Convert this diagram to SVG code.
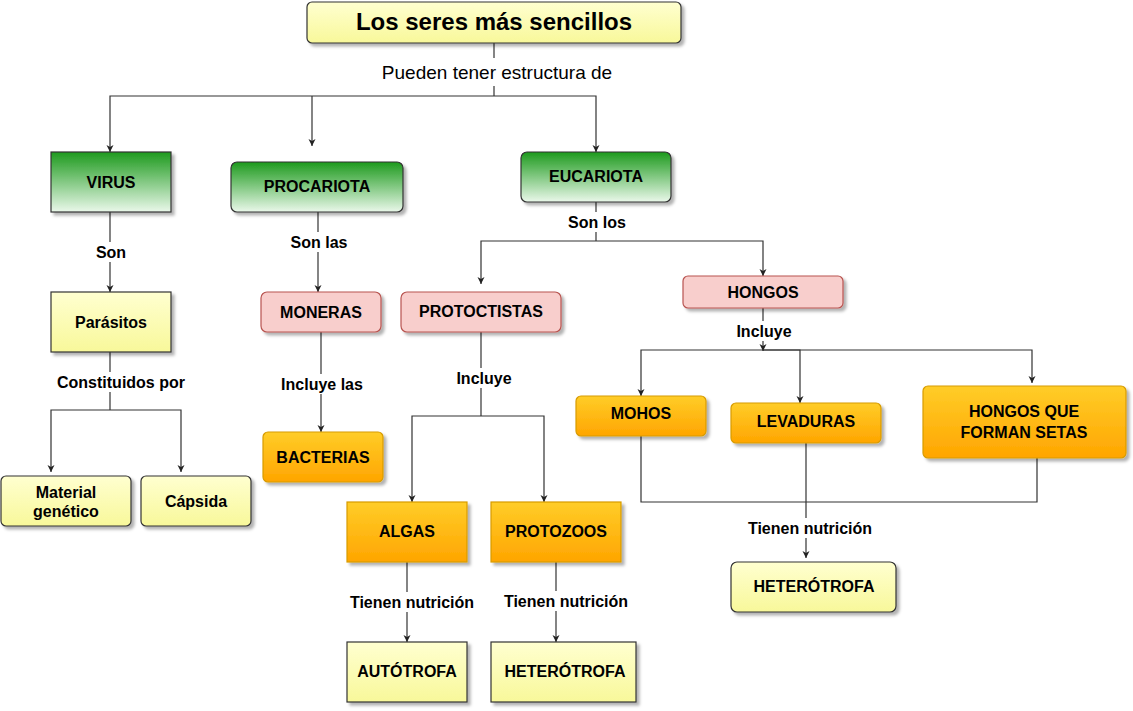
<svg xmlns="http://www.w3.org/2000/svg" width="1133" height="711" viewBox="0 0 1133 711">
<defs>
<linearGradient id="gG" x1="0" y1="0" x2="0" y2="1"><stop offset="0" stop-color="#1d9a1d"/><stop offset="1" stop-color="#eaf8ea"/></linearGradient>
<linearGradient id="gO" x1="0" y1="0" x2="0" y2="1"><stop offset="0" stop-color="#ffcd28"/><stop offset="1" stop-color="#ffa500"/></linearGradient>
<linearGradient id="gY" x1="0" y1="0" x2="0" y2="1"><stop offset="0" stop-color="#ffffd0"/><stop offset="1" stop-color="#f8f89a"/></linearGradient>
<filter id="sh" x="-10%" y="-10%" width="130%" height="140%"><feDropShadow dx="3" dy="3" stdDeviation="1.5" flood-color="#000" flood-opacity="0.3"/></filter>
<marker id="ar" markerWidth="10" markerHeight="10" refX="8" refY="5" orient="auto" markerUnits="userSpaceOnUse"><path d="M1,1.5 L8,5 L1,8.5 L3,5 Z" fill="#222"/></marker>
<style>
.n{stroke:#333;stroke-width:1.2;filter:url(#sh)}
.g{fill:url(#gG)}.o{fill:url(#gO);stroke:#d79b00}.y{fill:url(#gY)}.p{fill:#f8cecc;stroke:#b85450}
.t{font-family:"Liberation Sans",Arial,sans-serif;font-weight:bold;font-size:16px;text-anchor:middle;dominant-baseline:central;fill:#000}
.c{fill:none;stroke:#333;stroke-width:1.2}
.a{marker-end:url(#ar)}
.lb{fill:#fff}
.l{font-family:"Liberation Sans",Arial,sans-serif;font-weight:bold;font-size:16px;text-anchor:middle;dominant-baseline:central}
</style>
</defs>
<g id="connectors">
<path class="c" d="M494,43 V96"/>
<path class="c a" d="M494,96 H110 V152"/>
<path class="c a" d="M312,96 V146"/>
<path class="c a" d="M494,96 H596 V152"/>
<path class="c a" d="M110,212 V292"/>
<path class="c a" d="M318,212 V292"/>
<path class="c" d="M596,202 V241"/>
<path class="c a" d="M596,241 H481 V284"/>
<path class="c a" d="M596,241 H763 V276"/>
<path class="c" d="M110,352 V410"/>
<path class="c a" d="M110,410 H51 V472"/>
<path class="c a" d="M110,410 H181 V472"/>
<path class="c a" d="M321,332 V432"/>
<path class="c" d="M481,332 V416"/>
<path class="c a" d="M481,416 H412 V502"/>
<path class="c a" d="M481,416 H544 V502"/>
<path class="c a" d="M763,308 V351"/>
<path class="c a" d="M763,350 H641 V396"/>
<path class="c a" d="M763,350 H800 V403"/>
<path class="c a" d="M763,350 H1032 V383"/>
<path class="c" d="M641,436 V502 H1037 V458"/>
<path class="c a" d="M806,443 V558"/>
<path class="c a" d="M407,562 V642"/>
<path class="c a" d="M556,562 V642"/>
<rect class="lb" x="362" y="58" width="270" height="28"/><text x="497" y="72" class="l" style="font-weight:normal;font-size:19px">Pueden tener estructura de</text>
<rect class="lb" x="92" y="242" width="38" height="20"/><text class="l" x="111" y="252">Son</text>
<rect class="lb" x="284" y="232" width="70" height="20"/><text class="l" x="319" y="242">Son las</text>
<rect class="lb" x="563" y="212" width="68" height="20"/><text class="l" x="597" y="222">Son los</text>
<rect class="lb" x="48" y="372" width="146" height="20"/><text class="l" x="121" y="382">Constituidos por</text>
<rect class="lb" x="274" y="374" width="96" height="20"/><text class="l" x="322" y="384">Incluye las</text>
<rect class="lb" x="451" y="368" width="66" height="20"/><text class="l" x="484" y="378">Incluye</text>
<rect class="lb" x="731" y="321" width="66" height="20"/><text class="l" x="764" y="331">Incluye</text>
<rect class="lb" x="737" y="518" width="144" height="20"/><text class="l" x="810" y="528">Tienen nutrición</text>
<rect class="lb" x="340" y="592" width="144" height="20"/><text class="l" x="412" y="602">Tienen nutrición</text>
<rect class="lb" x="494" y="591" width="144" height="20"/><text class="l" x="566" y="601">Tienen nutrición</text>
</g>
<g id="title"><rect class="n y" x="307" y="2" width="374" height="41" rx="5"/><text class="t" x="494" y="21" style="font-size:24px">Los seres más sencillos</text></g>
<g id="virus"><rect class="n g" x="51" y="152" width="120" height="60"/><text class="t" x="111" y="182">VIRUS</text></g>
<g id="procariota"><rect class="n g" x="231" y="162" width="172" height="50" rx="6"/><text class="t" x="317" y="186">PROCARIOTA</text></g>
<g id="eucariota"><rect class="n g" x="521" y="152" width="150" height="50" rx="6"/><text class="t" x="596" y="176">EUCARIOTA</text></g>
<g id="parasitos"><rect class="n y" x="51" y="292" width="120" height="60"/><text class="t" x="111" y="322">Parásitos</text></g>
<g id="moneras"><rect class="n p" x="261" y="292" width="120" height="40" rx="6"/><text class="t" x="321" y="312">MONERAS</text></g>
<g id="protoctistas"><rect class="n p" x="401" y="292" width="160" height="40" rx="6"/><text class="t" x="481" y="311">PROTOCTISTAS</text></g>
<g id="hongos"><rect class="n p" x="683" y="276" width="160" height="32" rx="5"/><text class="t" x="763" y="292">HONGOS</text></g>
<g id="bacterias"><rect class="n o" x="263" y="432" width="120" height="50" rx="5"/><text class="t" x="323" y="457">BACTERIAS</text></g>
<g id="material"><rect class="n y" x="1" y="476" width="130" height="50" rx="5"/><text class="t" x="66" y="492">Material</text><text class="t" x="66" y="511">genético</text></g>
<g id="capsida"><rect class="n y" x="141" y="476" width="110" height="50" rx="5"/><text class="t" x="196" y="501">Cápsida</text></g>
<g id="algas"><rect class="n o" x="347" y="502" width="120" height="60"/><text class="t" x="407" y="531">ALGAS</text></g>
<g id="protozoos"><rect class="n o" x="491" y="502" width="130" height="60"/><text class="t" x="556" y="531">PROTOZOOS</text></g>
<g id="mohos"><rect class="n o" x="576" y="396" width="130" height="40" rx="5"/><text class="t" x="641" y="413">MOHOS</text></g>
<g id="levaduras"><rect class="n o" x="731" y="403" width="150" height="40" rx="5"/><text class="t" x="806" y="421">LEVADURAS</text></g>
<g id="setas"><rect class="n o" x="923" y="386" width="203" height="72" rx="5"/><text class="t" x="1024" y="411">HONGOS QUE</text><text class="t" x="1024" y="432">FORMAN SETAS</text></g>
<g id="heterotrofa2"><rect class="n y" x="731" y="562" width="165" height="50" rx="6"/><text class="t" x="814" y="586">HETERÓTROFA</text></g>
<g id="autotrofa"><rect class="n y" x="347" y="642" width="120" height="60"/><text class="t" x="407" y="671">AUTÓTROFA</text></g>
<g id="heterotrofa1"><rect class="n y" x="491" y="642" width="145" height="60"/><text class="t" x="565" y="671">HETERÓTROFA</text></g>
</svg>
